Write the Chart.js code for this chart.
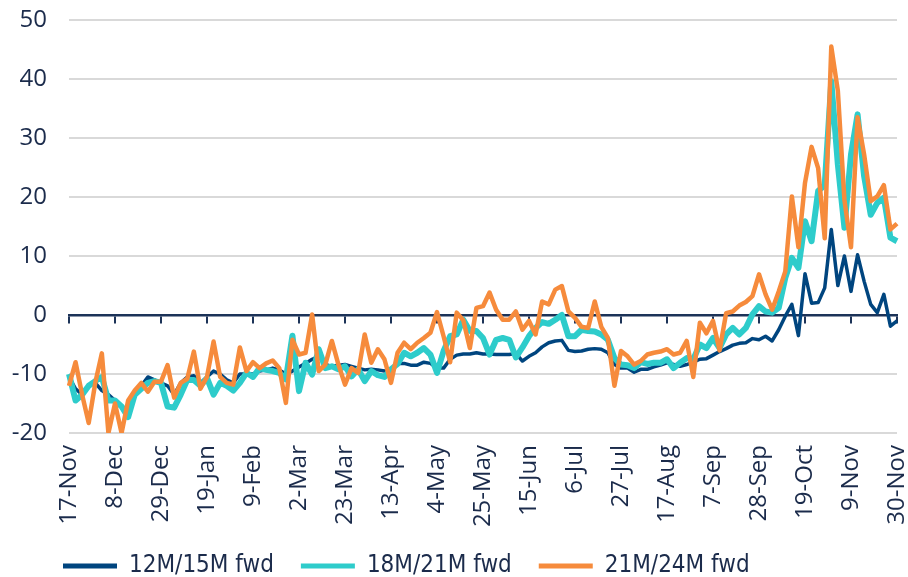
<!DOCTYPE html>
<html>
<head>
<meta charset="utf-8">
<script src="https://cdn.jsdelivr.net/npm/chart.js@4.4.1/dist/chart.umd.min.js"></script>
<style>
  html, body { margin: 0; padding: 0; background: #fff; }
  #wrap { width: 908px; height: 577px; }
</style>
</head>
<body>
<div id="wrap"><canvas id="spread-chart"></canvas></div>
<script>
// one point every 3 days, starting 17-Nov
const startDate = Date.UTC(2021, 10, 17);
const stepDays = 3;
const monthNames = ["Jan", "Feb", "Mar", "Apr", "May", "Jun", "Jul", "Aug", "Sep", "Oct", "Nov", "Dec"];

const tickLabels = ["17-Nov", "8-Dec", "29-Dec", "19-Jan", "9-Feb", "2-Mar", "23-Mar", "13-Apr", "4-May",
  "25-May", "15-Jun", "6-Jul", "27-Jul", "17-Aug", "7-Sep", "28-Sep", "19-Oct", "9-Nov", "30-Nov"];

const seriesNames = ["12M/15M fwd", "18M/21M fwd", "21M/24M fwd"];

const fwd12_15 = [
  -10.5, -12.5, -13.5, -12, -11.5, -12.8, -13.5, -14.5, -15.5, -16.5,
  -13, -12, -10.5, -11, -11.5, -12, -13.5, -11.5, -10.5, -10.3,
  -11.5, -10.5, -9.5, -10, -11, -11.5, -10, -10, -10, -9.5,
  -9.3, -9, -9.3, -10, -9.5, -8.8, -8.2, -7.5, -7.0, -8.4,
  -8.7, -8.5, -8.4, -8.7, -9.0, -9.3, -9.2, -9.3, -9.5, -9.3,
  -8.2, -8.2, -8.5, -8.5, -8.0, -8.2, -9.0, -9.0, -7.5, -6.8,
  -6.6, -6.6, -6.4, -6.6, -6.6, -6.7, -6.7, -6.7, -6.5, -7.8,
  -7.0, -6.4, -5.4, -4.7, -4.4, -4.3, -6.0, -6.2, -6.1, -5.8,
  -5.7, -5.8, -6.4, -8.4, -9.0, -9.0, -9.7, -9.2, -9.2, -8.8,
  -8.5, -8.1, -8.4, -8.7, -8.4, -8.0, -7.5, -7.4, -6.8, -6.2,
  -5.7, -5.1, -4.8, -4.7, -4.0, -4.2, -3.6, -4.4, -2.5, -0.2,
  1.8, -3.5, 7.0, 2.0, 2.1, 4.6, 14.5, 5.0, 10.0, 4.0,
  10.2, 5.7, 1.8, 0.4, 3.5, -1.9, -1.0
];

const fwd18_21 = [
  -10, -14.5, -13.5, -12, -11.2, -10.5, -14.5, -14.5, -15.5, -17.3,
  -13.5, -12.5, -11.5, -11.2, -11.5, -15.5, -15.7, -13.5, -11, -11,
  -12, -10.7, -13.5, -11.5, -12, -12.8, -11.5, -9.8, -10.5, -9,
  -9.3, -9.5, -9.8, -10.9, -3.5, -12.9, -8.1, -10.1, -5.8, -9.0,
  -8.7, -9.2, -8.7, -10.4, -9.2, -11.2, -9.5, -10.2, -10.5, -9.2,
  -8.3, -6.4, -7.0, -6.4, -5.6, -6.7, -9.8, -6.1, -3.6, -3.3,
  -0.8, -2.7, -2.7, -3.9, -6.7, -4.2, -3.9, -4.2, -7.2, -5.5,
  -3.6, -2.2, -1.2, -1.5, -0.8, 0.0, -3.6, -3.6, -2.5, -2.7,
  -2.8, -3.3, -4.2, -7.3, -8.4, -8.5, -9.0, -8.0, -8.3, -8.1,
  -8.1, -7.5, -9.0, -8.1, -7.3, -7.5, -5.0, -5.6, -3.9, -5.6,
  -3.3, -2.2, -3.3, -2.2, 0.1, 1.5, 0.6, 0.4, 1.2, 6.3,
  9.7, 8.0, 15.9, 12.5, 21.0, 22.0, 39.6, 25.5, 14.8, 27.2,
  34.0, 23.5, 17.0, 19.0, 19.9, 13.1, 12.5
];

const fwd21_24 = [
  -12, -8, -13.5, -18.3, -11.5, -6.5, -20, -15, -20, -14.5,
  -12.8, -11.5, -13, -11.3, -11.3, -8.5, -14, -11.5, -10.8, -6.2,
  -12.5, -10.5, -4.5, -10.5, -11.5, -11.8, -5.5, -9.5, -8, -9,
  -8.2, -7.7, -9.0, -14.9, -4.2, -6.7, -6.4, 0.1, -9.5, -8.4,
  -4.4, -8.4, -11.8, -9.0, -9.8, -3.3, -8.1, -5.8, -7.5, -11.5,
  -6.4, -4.7, -5.8, -4.7, -3.9, -3.0, 0.5, -3.6, -8, 0.4,
  -0.9, -5.6, 1.2, 1.5, 3.8, 0.9, -0.8, -0.8, 0.6, -2.5,
  -1.0, -3.3, 2.3, 1.8, 4.3, 4.9, 0.6, -0.5, -2.0, -2.2,
  2.3, -2.0, -3.9, -12, -6.1, -7.0, -8.4, -7.8, -6.7, -6.4,
  -6.2, -5.8, -6.7, -6.4, -4.4, -10.5, -1.3, -3.1, -1.0, -6.0,
  0.3, 0.6, 1.6, 2.2, 3.2, 6.9, 3.5, 0.9, 4.0, 7.4,
  20.1, 11.5, 22.4, 28.5, 24.9, 13.0, 45.5, 38.0, 19.5, 11.5,
  33.5, 27.2, 19.3, 20.1, 22, 14.5, 15.5
];

const categories = fwd12_15.map((v, i) => {
  const d = new Date(startDate + i * stepDays * 86400000);
  return d.getUTCDate() + "-" + monthNames[d.getUTCMonth()];
});

const textColor = "#1b2b4b";
const navy = "#00457f";
const teal = "#2ecccb";
const orange = "#f68b3c";
const labelEvery = 7;
const tickFont = { family: "'Open Sans', sans-serif", size: 24 };

// legend starts under the y labels, not centred
const legendOffset = {
  id: "legendOffset",
  afterLayout(chart) {
    const shift = 36 - chart.legend.left;
    chart.legend.left += shift;
    chart.legend.right += shift;
  },
};

const ctx = document.getElementById("spread-chart").getContext("2d");

new Chart(ctx, {
  type: "line",
  data: {
    labels: categories,
    datasets: [
      { label: seriesNames[0], data: fwd12_15, borderColor: navy, backgroundColor: navy, borderWidth: 3.5, order: 3 },
      { label: seriesNames[1], data: fwd18_21, borderColor: teal, backgroundColor: teal, borderWidth: 6, order: 2 },
      { label: seriesNames[2], data: fwd21_24, borderColor: orange, backgroundColor: orange, borderWidth: 4.5, order: 1 },
    ],
  },
  plugins: [legendOffset],
  options: {
    animation: false,
    responsive: true,
    maintainAspectRatio: false,
    layout: { padding: { left: 10, right: 11, top: 20, bottom: 0 } },
    elements: {
      point: { radius: 0 },
      line: { tension: 0, borderJoinStyle: "round" },
    },
    plugins: {
      tooltip: { enabled: false },
      legend: {
        position: "bottom",
        align: "start",
        maxHeight: 50,
        labels: {
          color: textColor,
          font: { family: "'DejaVu Sans Condensed', 'DejaVu Sans', sans-serif", size: 24 },
          boxWidth: 54,
          boxHeight: 5,
          padding: 27,
          sort: (a, b) => a.datasetIndex - b.datasetIndex,
          generateLabels: (chart) =>
            Chart.defaults.plugins.legend.labels.generateLabels(chart).map((l) => ({ ...l, lineWidth: 0 })),
        },
      },
    },
    scales: {
      x: {
        type: "category",
        offset: false,
        grid: { display: false, drawTicks: false },
        border: { display: false },
        afterFit: (scale) => {
          scale.height = 94;
          scale.paddingLeft = 0;
          scale.paddingRight = 0;
        },
        ticks: {
          autoSkip: false,
          maxRotation: 90,
          minRotation: 90,
          padding: 12,
          color: textColor,
          font: tickFont,
          callback: (val, index) => (index % labelEvery === 0 ? tickLabels[index / labelEvery] : null),
        },
      },
      xZero: {
        type: "category",
        position: { y: 0 },
        offset: false,
        grid: {
          drawOnChartArea: false,
          drawTicks: true,
          tickLength: 7,
          lineWidth: 2,
          color: (c) => (c.index % labelEvery === 0 ? "#1c3358" : "rgba(0,0,0,0)"),
        },
        border: { display: true, color: "#1c3358", width: 2.5 },
        ticks: { display: false, autoSkip: false },
      },
      y: {
        min: -20,
        max: 50,
        afterFit: (scale) => {
          scale.width = 59;
          scale.paddingTop = 0;
          scale.paddingBottom = 0;
        },
        grid: {
          color: "#d9d9d9",
          lineWidth: 2,
          drawTicks: false,
        },
        border: { display: false },
        ticks: {
          stepSize: 10,
          padding: 22,
          color: textColor,
          font: tickFont,
        },
      },
    },
  },
});
</script>
</body>
</html>
